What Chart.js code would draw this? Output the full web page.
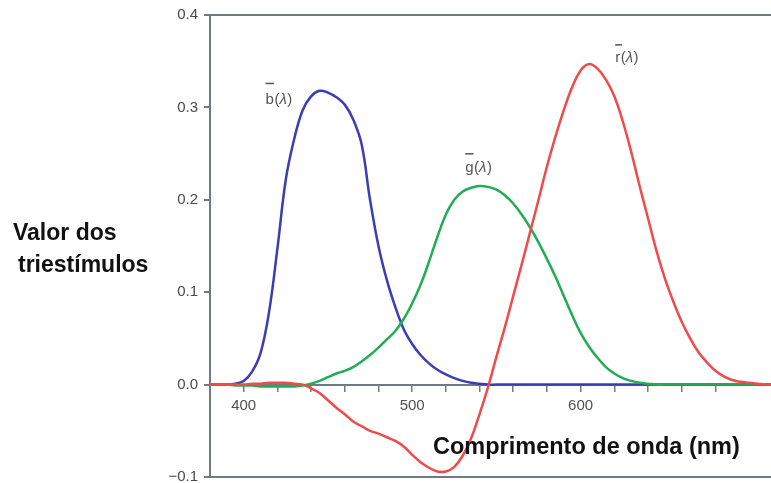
<!DOCTYPE html>
<html>
<head>
<meta charset="utf-8">
<script src="https://cdn.jsdelivr.net/npm/chart.js@4.4.1/dist/chart.umd.min.js"></script>
<style>
  html, body { margin: 0; padding: 0; background: #fff; }
  #wrap { width: 771px; height: 483px; }
</style>
</head>
<body>
<div id="wrap"><canvas id="chart"></canvas></div>
<script>
// wavelengths (nm) and tristimulus values
const wavelengths = [380, 385, 390, 395, 400, 405, 410, 415, 420, 425, 430, 435, 440, 445, 450, 455, 460, 465, 470, 475,
  480, 485, 490, 495, 500, 505, 510, 515, 520, 525, 530, 535, 540, 545, 550, 555, 560, 565, 570, 575,
  580, 585, 590, 595, 600, 605, 610, 615, 620, 625, 630, 635, 640, 645, 650, 655, 660, 665, 670, 675,
  680, 685, 690, 695, 700, 705, 710, 715];

const rBar = [0, 0, 0, 0, 0, 0.001, 0.001, 0.002, 0.002, 0.002, 0.001, 0, -0.004, -0.009, -0.017, -0.025, -0.032, -0.040, -0.045, -0.050,
  -0.053, -0.057, -0.061, -0.067, -0.076, -0.084, -0.090, -0.094, -0.094, -0.089, -0.077, -0.058, -0.032, -0.003, 0.030, 0.062, 0.096, 0.130, 0.165, 0.200,
  0.236, 0.268, 0.297, 0.322, 0.340, 0.347, 0.342, 0.330, 0.312, 0.285, 0.252, 0.215, 0.180, 0.145, 0.115, 0.090, 0.068, 0.050, 0.035, 0.024,
  0.015, 0.009, 0.005, 0.003, 0.002, 0.001, 0, 0];

const gBar = [0, 0, 0, -0.001, -0.001, -0.001, -0.002, -0.002, -0.002, -0.002, -0.002, -0.001, 0.001, 0.004, 0.008, 0.012, 0.015, 0.019, 0.025, 0.032,
  0.040, 0.049, 0.058, 0.071, 0.088, 0.108, 0.133, 0.160, 0.184, 0.200, 0.209, 0.213, 0.215, 0.214, 0.211, 0.205, 0.196, 0.184, 0.170, 0.154,
  0.136, 0.117, 0.096, 0.075, 0.056, 0.041, 0.029, 0.019, 0.012, 0.007, 0.004, 0.002, 0.001, 0, 0, 0, 0, 0, 0, 0,
  0, 0, 0, 0, 0, 0, 0, 0];

const bBar = [0, 0, 0, 0.001, 0.004, 0.014, 0.034, 0.078, 0.147, 0.222, 0.266, 0.297, 0.312, 0.318, 0.316, 0.311, 0.303, 0.287, 0.260, 0.200,
  0.150, 0.113, 0.084, 0.060, 0.044, 0.032, 0.023, 0.016, 0.011, 0.007, 0.004, 0.002, 0.001, 0, 0, 0, 0, 0, 0, 0,
  0, 0, 0, 0, 0, 0, 0, 0, 0, 0, 0, 0, 0, 0, 0, 0, 0, 0, 0, 0,
  0, 0, 0, 0, 0, 0, 0, 0];

const yTicks = [-0.1, 0, 0.1, 0.2, 0.3, 0.4];
const xLabels = [400, 500, 600, 700];
const curveLetters = ['r', 'g', 'b'];

const AXIS = '#6f7b81';
const TICK_FONT = { family: '"Liberation Sans", Arial, sans-serif', size: 15 };

const toPoints = vals => wavelengths.map((w, i) => ({ x: w, y: vals[i] }));

const lineStyle = {
  pointRadius: 0,
  borderWidth: 2.5,
  tension: 0.4,
  fill: false
};

// curve labels and axis titles
const annotate = {
  id: 'annotate',
  afterDraw(chart) {
    const { ctx, scales: { x, y } } = chart;
    const spots = [
      { letter: curveLetters[0], at: [620.5, 0.349], bar: 18 },
      { letter: curveLetters[1], at: [531.5, 0.230], bar: 19 },
      { letter: curveLetters[2], at: [413, 0.304], bar: 21 }
    ];
    const reg = '15px "Liberation Sans", Arial, sans-serif';
    ctx.save();
    ctx.fillStyle = '#555';
    ctx.textBaseline = 'alphabetic';
    ctx.textAlign = 'left';
    spots.forEach(s => {
      const px = x.getPixelForValue(s.at[0]);
      const py = y.getPixelForValue(s.at[1]);
      ctx.font = reg;
      ctx.fillText(s.letter, px, py);
      const w = ctx.measureText(s.letter).width;
      ctx.fillRect(px, py - s.bar, Math.max(w, 7), 1.5);
      ctx.fillText('(', px + w + 0.5, py);
      const wp = ctx.measureText('(').width;
      ctx.font = 'italic ' + reg;
      ctx.fillText('λ', px + w + wp + 0.5, py);
      const wl = ctx.measureText('λ').width;
      ctx.font = reg;
      ctx.fillText(')', px + w + wp + wl + 1, py);
    });

    ctx.fillStyle = '#111';
    ctx.font = 'bold 23px "Liberation Sans", Arial, sans-serif';
    ctx.fillText('Valor dos', 13, 240);
    ctx.fillText('triestímulos', 18, 272);
    ctx.font = 'bold 23.5px "Liberation Sans", Arial, sans-serif';
    ctx.fillText('Comprimento de onda (nm)', 433, 454);
    ctx.restore();
  }
};

new Chart(document.getElementById('chart'), {
  type: 'line',
  data: {
    datasets: [
      { label: 'r', data: toPoints(rBar), borderColor: '#ef4b4b', ...lineStyle },
      { label: 'g', data: toPoints(gBar), borderColor: '#22ad55', ...lineStyle },
      { label: 'b', data: toPoints(bBar), borderColor: '#3a3db3', ...lineStyle }
    ]
  },
  options: {
    responsive: true,
    maintainAspectRatio: false,
    animation: false,
    events: [],
    layout: { padding: { top: 15, right: 0, bottom: 6, left: 0 } },
    plugins: {
      legend: { display: false },
      tooltip: { enabled: false }
    },
    scales: {
      x: {
        type: 'linear',
        min: 380,
        max: 713,
        position: { y: 0 },
        afterBuildTicks: s => { s.ticks = s.ticks.filter(t => t.value % 20 === 0 && t.value > 380); },
        afterFit: s => { s.height = 0; },
        ticks: {
          stepSize: 20,
          autoSkip: false,
          maxRotation: 0,
          padding: 6,
          color: '#505050',
          font: TICK_FONT,
          callback: v => xLabels.includes(v) ? String(v) : ''
        },
        grid: { drawOnChartArea: false, drawTicks: true, tickLength: 6, tickColor: AXIS, lineWidth: 1.5 },
        border: { color: AXIS, width: 2 }
      },
      y: {
        min: -0.1,
        max: 0.4,
        afterBuildTicks: s => { s.ticks = yTicks.map(v => ({ value: v })); },
        afterFit: s => { s.width = 210; s.paddingTop = 0; s.paddingBottom = 0; },
        ticks: {
          padding: 6,
          color: '#4a4a4a',
          font: TICK_FONT,
          callback: v => v < 0 ? '\u2212' + Math.abs(v).toFixed(1) : v.toFixed(1)
        },
        grid: {
          color: c => (c.tick && (c.tick.value === 0.4 || c.tick.value === -0.1)) ? AXIS : 'transparent',
          lineWidth: 2,
          drawTicks: true,
          tickLength: 6,
          tickColor: AXIS
        },
        border: { color: AXIS, width: 2 }
      }
    }
  },
  plugins: [annotate]
});
</script>
</body>
</html>
